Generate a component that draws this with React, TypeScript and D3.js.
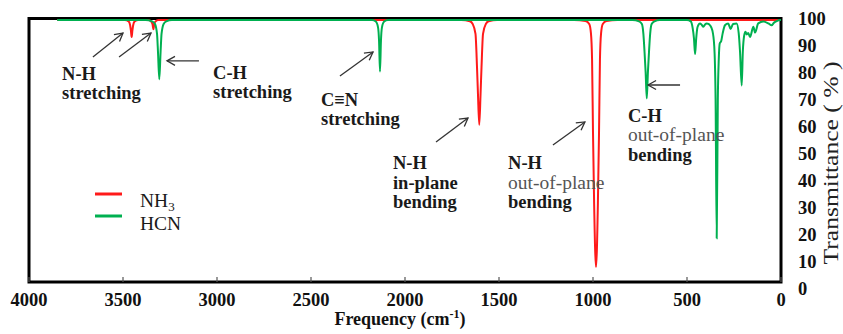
import React from "react";
import * as d3 from "d3";

// IR spectra: frequency (cm-1) and transmittance (%)
const nh3Freq = [3850, 3490, 3470, 3462, 3458, 3454, 3450, 3446, 3438, 3418, 3365, 3350, 3343, 3338, 3334, 3328, 3312,
  1700, 1655, 1640, 1625, 1617, 1612, 1605, 1598, 1593, 1585, 1570, 1555, 1510,
  1100, 1040, 1020, 1011, 1005, 1000, 994, 984, 974, 968, 963, 957, 948, 928, 870, 0];
const nh3Trans = [100, 100, 99.5, 98, 96, 93.5, 96, 98, 99.5, 100, 100, 99.4, 98.4, 96.5, 98.4, 99.4, 100,
  100, 99.5, 98.5, 94.7, 82, 72, 60, 72, 82, 94.7, 98.5, 99.5, 100,
  100, 99.6, 98.5, 95, 85, 57, 30, 5.7, 30, 57, 85, 95, 98.5, 99.6, 100, 100];

const hcnFreq = [3850, 3380, 3345, 3330, 3319, 3314, 3307, 3300, 3295, 3284, 3270, 3240,
  2175, 2155, 2143, 2138, 2133, 2128, 2123, 2111, 2091,
  790, 755, 740, 732, 726, 720, 714, 708, 702, 696, 688, 673, 645,
  500, 480, 470, 463, 457, 451, 445, 440, 431, 422, 413, 404, 395, 386, 378, 365, 355, 348, 342, 336, 331, 326, 318, 310, 298,
  281, 268, 255, 236, 225, 218, 209, 203, 196, 189, 182, 174, 165, 147, 138, 121, 94, 67, 50, 37, 23, 5, 0];
const hcnTrans = [100, 100, 99.5, 98.5, 94.7, 88, 77.4, 88, 94.7, 98.5, 99.5, 100,
  100, 99.4, 97, 92, 80.3, 92, 97, 99.4, 100,
  100, 99.5, 98.5, 94.7, 88, 80, 70.1, 80, 88, 94.7, 98.5, 99.5, 100,
  100, 99.5, 97, 93, 87, 93, 97, 98, 98.7, 98.2, 97.4, 98.3, 98.7, 98.5, 98, 96, 90, 70, 16.7, 70, 85, 91, 92, 95, 98,
  98.7, 96.6, 98.5, 98.7, 95, 88, 75, 88, 94, 95.5, 94.5, 95, 93.5, 97.4, 95.2, 98.7, 99.4, 98.7, 98, 99, 99.6, 100, 100];

const xTickValues = [4000, 3500, 3000, 2500, 2000, 1500, 1000, 500, 0];
const yTickValues = [0, 10, 20, 30, 40, 50, 60, 70, 80, 90, 100];

const seriesNames = ["NH3", "HCN"];
const seriesColors = ["#ff1a1a", "#00b050"];

// annotation text anchored in data units (frequency, transmittance)
const labels = [
  { f: 3824, t: 77.1, lines: [["N-H", true], ["stretching", true]] },
  { f: 3021, t: 77.5, lines: [["C-H", true], ["stretching", true]] },
  { f: 2447, t: 67.2, lines: [["C\u2261N", true], ["stretching", true]] },
  { f: 2064, t: 43.1, lines: [["N-H", true], ["in-plane", true], ["bending", true]] },
  { f: 1452, t: 43.1, lines: [["N-H", true], ["out-of-plane", false], ["bending", true]] },
  { f: 814, t: 61.1, lines: [["C-H", true], ["out-of-plane", false], ["bending", true]] },
];
const arrows = [
  [3660, 85.9, 3500, 95.0],
  [3521, 85.9, 3351, 95.0],
  [3096, 84.4, 3266, 84.4],
  [2346, 78.6, 2170, 87.8],
  [1835, 53.4, 1665, 62.6],
  [1213, 52.3, 1043, 61.1],
  [537, 75.2, 707, 75.2],
];

const W = 843;
const H = 334;
const font = "'Liberation Serif', 'Times New Roman', serif";

export default function App() {
  const x = d3.scaleLinear().domain([4000, 0]).range([29, 781]);
  const y = d3.scaleLinear().domain([0, 100]).range([282, 20]);
  // the right-hand labels are spread a little wider than the frame
  const yLabel = d3.scaleLinear().domain([0, 100]).range([289, 19]);

  const line = d3
    .line<[number, number]>()
    .x((d) => x(d[0]))
    .y((d) => y(d[1]))
    .curve(d3.curveMonotoneX);

  const nh3 = nh3Freq.map((f, i) => [f, nh3Trans[i]] as [number, number]);
  const hcn = hcnFreq.map((f, i) => [f, hcnTrans[i]] as [number, number]);

  return (
    <svg width={W} height={H} style={{ position: "absolute", left: 0, top: 0, background: "#fff" }} fontFamily={font}>
      <defs>
        <marker id="head" viewBox="-10 -6 12 12" refX="0" refY="0" markerWidth="12" markerHeight="12"
          markerUnits="userSpaceOnUse" orient="auto">
          <path d="M-8,-4.5 L0,0 L-8,4.5" fill="none" stroke="#333" strokeWidth="1.3" />
        </marker>
      </defs>

      <rect x={x(4000)} y={18.5} width={x(0) - x(4000)} height={y(0) - 18.5} fill="none" stroke="#000" strokeWidth={3} />

      {xTickValues.map((v) => (
        <g key={v}>
          <line x1={x(v)} x2={x(v)} y1={y(0)} y2={y(0) - 5} stroke="#555" strokeWidth={1.2} />
          <text x={x(v)} y={306} textAnchor="middle" fontSize={18.5} fontWeight="bold" fill="#111">{v}</text>
        </g>
      ))}
      {yTickValues.map((v) => (
        <text key={v} x={798} y={yLabel(v)} dy="0.35em" fontSize={18.5} fontWeight="bold" fill="#111">{v}</text>
      ))}

      <path d={line(nh3) || ""} fill="none" stroke={seriesColors[0]} strokeWidth={2} />
      <path d={line(hcn) || ""} fill="none" stroke={seriesColors[1]} strokeWidth={2} />

      {arrows.map((a, i) => (
        <line key={i} x1={x(a[0])} y1={y(a[1])} x2={x(a[2])} y2={y(a[3])} stroke="#333" strokeWidth={1.3} markerEnd="url(#head)" />
      ))}

      {labels.map((l, i) => (
        <g key={i}>
          {l.lines.map(([txt, bold], j) => (
            <text key={j} x={x(l.f)} y={y(l.t) + j * 19.5} fontSize={bold ? 18.5 : 19.5}
              fontWeight={bold ? "bold" : "normal"} fill={bold ? "#1a1a1a" : "#555"}>{txt as string}</text>
          ))}
        </g>
      ))}

      {/* legend */}
      <line x1={95} x2={122} y1={194} y2={194} stroke={seriesColors[0]} strokeWidth={3} />
      <line x1={95} x2={122} y1={216} y2={216} stroke={seriesColors[1]} strokeWidth={3} />
      <text x={140} y={207} fontSize={19.5} fill="#1a1a1a">
        NH<tspan fontSize={13} dy={4}>3</tspan>
      </text>
      <text x={140} y={230} fontSize={19.5} fill="#1a1a1a">{seriesNames[1]}</text>

      <text x={400} y={325} textAnchor="middle" fontSize={18} fontWeight="bold" fill="#111">
        Frequency (cm<tspan fontSize={12} dy={-7}>-1</tspan><tspan dy={7}>)</tspan>
      </text>
      <text transform="translate(838,163) rotate(-90)" textAnchor="middle" fontSize={20} fill="#222"
        textLength={203} lengthAdjust="spacingAndGlyphs">
        Transmittance ( % )
      </text>
    </svg>
  );
}
